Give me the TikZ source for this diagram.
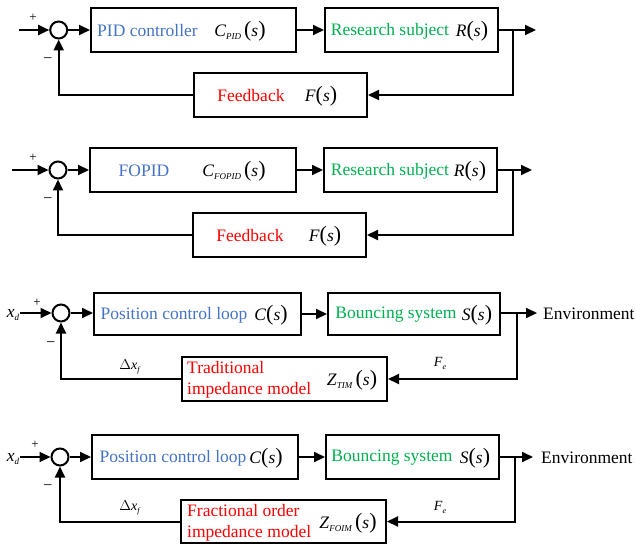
\documentclass[tikz,border=0pt]{standalone}
\usepackage{fontspec}
\setmainfont{Liberation Serif}
\usetikzlibrary{arrows.meta}
\definecolor{cblue}{RGB}{68,114,196}
\definecolor{cgreen}{RGB}{0,176,80}
\definecolor{cred}{RGB}{255,0,0}
\newcommand{\bigp}[1]{{\fontsize{22}{22}\selectfont #1}}
\newcommand{\tfn}[2]{\textit{#1}\raisebox{-3pt}{\fontsize{9}{9}\selectfont\textit{#2}}\,\bigp{(}\textit{s}\bigp{)}}
\newcommand{\tfs}[1]{\textit{#1}\bigp{(}\textit{s}\bigp{)}}
\begin{document}
\begin{tikzpicture}[x=1pt,y=-1pt,
  every node/.style={font=\fontsize{17.5}{19}\selectfont, inner sep=0pt},
  blk/.style={draw, line width=2pt},
  sumc/.style={draw, circle, line width=2pt, minimum size=17pt},
  arr/.style={line width=2pt, -{Triangle[length=11pt,width=10pt]}},
  sm/.style={font=\fontsize{13}{13}\selectfont},
  mn/.style={font=\fontsize{16}{16}\selectfont}
]
\useasboundingbox (0,0) rectangle (636,545);

% ---------- Diagram 1 ----------
\coordinate (in1) at (19,30);
\node[sumc] (s1) at (58.7,30) {};
\node[blk, minimum width=205pt, minimum height=44pt] (c1) at (193.5,30) {};
\node[blk, minimum width=173pt, minimum height=44pt] (r1) at (411.5,30) {};
\node[blk, minimum width=173pt, minimum height=44pt] (f1) at (280.5,95) {};
\coordinate (b1) at (513,30);
\coordinate (o1) at (536,30);
\node[text=cblue] (t1a) at (147.5,31) {PID controller};
\node (t1b) at (240,31) {\tfn{C}{PID}};
\node[text=cgreen] (t1c) at (390,31) {Research subject};
\node (t1d) at (472,31) {\tfs{R}};
\node[text=cred] (t1e) at (251,96) {Feedback};
\node (t1f) at (321,96) {\tfs{F}};
\node[sm] (p1) at (33,18) {+};
\node[mn] (m1) at (48,61) {\textminus};
\draw[arr] (in1) -- (s1.west);
\draw[arr] (s1.east) -- (c1.west);
\draw[arr] (c1.east) -- (r1.west);
\draw[arr] (r1.east) -- (o1);
\draw[arr] (b1) |- (f1.east);
\draw[arr] (f1.west) -| (s1.south);

% ---------- Diagram 2 ----------
\coordinate (in2) at (12,170);
\node[sumc] (s2) at (58,170) {};
\node[blk, minimum width=206pt, minimum height=44pt] (c2) at (193,170) {};
\node[blk, minimum width=173pt, minimum height=44pt] (r2) at (410.5,170) {};
\node[blk, minimum width=173pt, minimum height=44pt] (f2) at (279.5,235) {};
\coordinate (b2) at (513,170);
\coordinate (o2) at (532,170);
\node[text=cblue] (t2a) at (144,171) {FOPID};
\node (t2b) at (234,171) {\tfn{C}{FOPID}};
\node[text=cgreen] (t2c) at (390,171) {Research subject};
\node (t2d) at (470,171) {\tfs{R}};
\node[text=cred] (t2e) at (250,236) {Feedback};
\node (t2f) at (325,236) {\tfs{F}};
\node[sm] (p2) at (33,158) {+};
\node[mn] (m2) at (48,201) {\textminus};
\draw[arr] (in2) -- (s2.west);
\draw[arr] (s2.east) -- (c2.west);
\draw[arr] (c2.east) -- (r2.west);
\draw[arr] (r2.east) -- (o2);
\draw[arr] (b2) |- (f2.east);
\draw[arr] (f2.west) -| (s2.south);

% ---------- Diagram 3 ----------
\node (xd3) at (13,315) {\textit{x}\raisebox{-3pt}{\fontsize{9}{9}\selectfont\textit{d}}};
\coordinate (in3) at (20,313);
\node[sumc] (s3) at (61,313) {};
\node[blk, minimum width=207pt, minimum height=42pt] (c3) at (197.5,314) {};
\node[blk, minimum width=172pt, minimum height=42pt] (r3) at (414,314) {};
\node[blk, minimum width=205pt, minimum height=44pt] (f3) at (284.5,379) {};
\coordinate (b3) at (517,313);
\coordinate (o3) at (537,313);
\node[text=cblue] (t3a) at (174,315) {Position control loop};
\node (t3b) at (271,315) {\tfs{C}};
\node[text=cgreen] (t3c) at (396,315) {Bouncing system};
\node (t3d) at (477,315) {\tfs{S}};
\node[text=cred, align=left, anchor=west, font=\fontsize{17.5}{21}\selectfont] (t3e) at (187,380) {Traditional\\impedance model};
\node (t3f) at (352,380) {\tfn{Z}{TIM}};
\node[anchor=west] (env3) at (543,314) {Environment};
\node[sm] (p3) at (37,303) {+};
\node[mn] (m3) at (51,345) {\textminus};
\node[font=\fontsize{14}{14}\selectfont] (dx3) at (130,367) {$\Delta$\textit{x}\raisebox{-3pt}{\fontsize{8}{8}\selectfont\textit{f}}};
\node[font=\fontsize{14}{14}\selectfont] (fe3) at (440,363) {\textit{F}\raisebox{-3pt}{\fontsize{8}{8}\selectfont\textit{e}}};
\draw[arr] (in3) -- (s3.west);
\draw[arr] (s3.east) -- (s3.east -| c3.west);
\draw[arr] (r3.east |- b3) -- (o3);
\draw[arr] (c3.east) -- (r3.west);
\draw[arr] (b3) |- (f3.east);
\draw[arr] (f3.west) -| (s3.south);

% ---------- Diagram 4 ----------
\node (xd4) at (13,459) {\textit{x}\raisebox{-3pt}{\fontsize{9}{9}\selectfont\textit{d}}};
\coordinate (in4) at (20,457);
\node[sumc] (s4) at (60,457) {};
\node[blk, minimum width=206pt, minimum height=44pt] (c4) at (195,457) {};
\node[blk, minimum width=173pt, minimum height=44pt] (r4) at (412.5,457) {};
\node[blk, minimum width=205pt, minimum height=43pt] (f4) at (283.5,521.5) {};
\coordinate (b4) at (515,457);
\coordinate (o4) at (533,457);
\node[text=cblue] (t4a) at (173,458) {Position control loop};
\node (t4b) at (266,458) {\tfs{C}};
\node[text=cgreen] (t4c) at (392,458) {Bouncing system};
\node (t4d) at (475,458) {\tfs{S}};
\node[text=cred, align=left, anchor=west, font=\fontsize{17.5}{21}\selectfont] (t4e) at (187,523) {Fractional order\\impedance model};
\node (t4f) at (348,523) {\tfn{Z}{FOIM}};
\node[anchor=west] (env4) at (541,458) {Environment};
\node[sm] (p4) at (35,445) {+};
\node[mn] (m4) at (48,488) {\textminus};
\node[font=\fontsize{14}{14}\selectfont] (dx4) at (130,508) {$\Delta$\textit{x}\raisebox{-3pt}{\fontsize{8}{8}\selectfont\textit{f}}};
\node[font=\fontsize{14}{14}\selectfont] (fe4) at (440,507) {\textit{F}\raisebox{-3pt}{\fontsize{8}{8}\selectfont\textit{e}}};
\draw[arr] (in4) -- (s4.west);
\draw[arr] (s4.east) -- (c4.west);
\draw[arr] (c4.east) -- (r4.west);
\draw[arr] (r4.east) -- (o4);
\draw[arr] (b4) |- (f4.east);
\draw[arr] (f4.west |- 0,522) -| (s4.south);
\end{tikzpicture}
\end{document}
